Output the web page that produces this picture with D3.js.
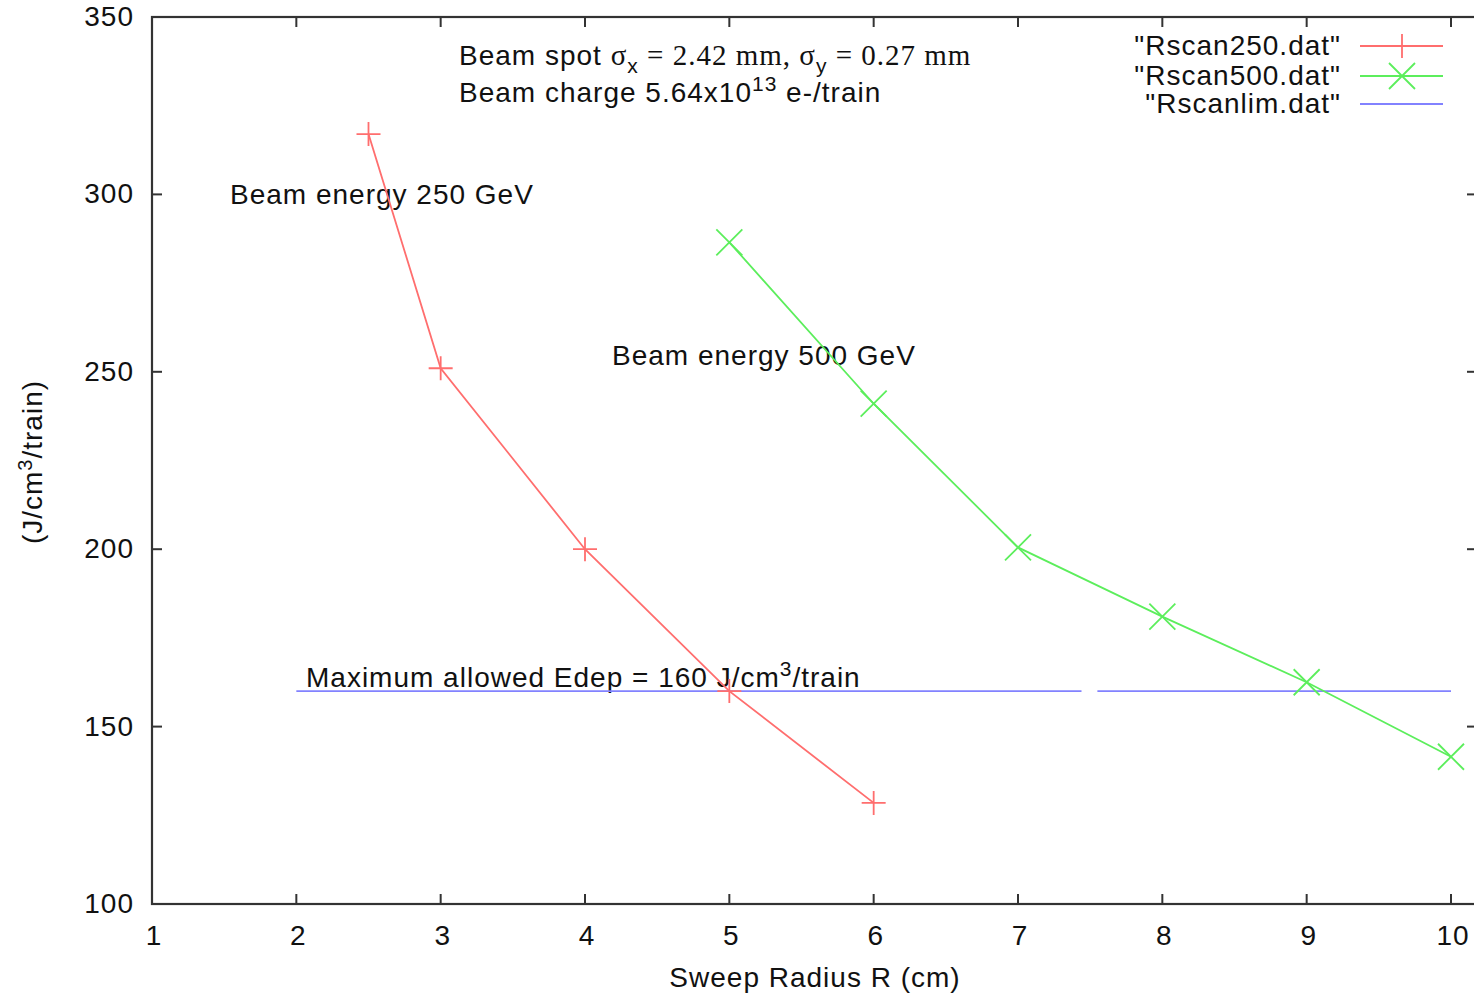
<!DOCTYPE html>
<html>
<head>
<meta charset="utf-8">
<script src="https://cdn.jsdelivr.net/npm/d3@7"></script>
<style>
  html, body { margin: 0; padding: 0; background: #fff; }
  svg { display: block; }
  text { font-family: "Liberation Sans", Arial, sans-serif; fill: #111; letter-spacing: 1px; }
  .serif { font-family: "Liberation Serif", "Times New Roman", serif; }
</style>
</head>
<body>
<script>
// Sweep radius scan: deposited energy per train vs. sweep radius
const rscan250X = [2.5, 3, 4, 5, 6];
const rscan250Y = [317, 251, 200, 160, 128.5];
const rscan500X = [5, 6, 7, 8, 9, 10];
const rscan500Y = [286.5, 241, 200.5, 181, 162.5, 141.5];
// limit line, stored as two runs separated by a blank record
const rscanlimSegments = [
  [[2, 160], [7.44, 160]],
  [[7.55, 160], [10, 160]]
];
const xTicks = [1, 2, 3, 4, 5, 6, 7, 8, 9, 10];
const yTicks = [100, 150, 200, 250, 300, 350];
const legendLabels = ['"Rscan250.dat"', '"Rscan500.dat"', '"Rscanlim.dat"'];

const W = 1474, H = 995;
const plotL = 152, plotR = 1477, plotT = 17, plotB = 904;

const x = d3.scaleLinear().domain([1, 10]).range([plotL, 1451]);
const y = d3.scaleLinear().domain([100, 350]).range([plotB, plotT]);

const svg = d3.select("body").append("svg").attr("width", W).attr("height", H);

const RED = "#ff6e6e", GREEN = "#5cee5c", BLUE = "#8282ff";
const FS = 28;

// Ticks (inward) on all four sides
const tickLen = 10;
const tickG = svg.append("g").attr("stroke", "#333").attr("stroke-width", 2);
xTicks.forEach(t => {
  tickG.append("line").attr("x1", x(t)).attr("x2", x(t)).attr("y1", plotB).attr("y2", plotB - tickLen);
  tickG.append("line").attr("x1", x(t)).attr("x2", x(t)).attr("y1", plotT).attr("y2", plotT + tickLen);
});
yTicks.forEach(t => {
  tickG.append("line").attr("x1", plotL).attr("x2", plotL + tickLen).attr("y1", y(t)).attr("y2", y(t));
  tickG.append("line").attr("x1", plotR).attr("x2", plotR - tickLen).attr("y1", y(t)).attr("y2", y(t));
});

// Frame
svg.append("rect").attr("x", plotL).attr("y", plotT).attr("width", plotR - plotL).attr("height", plotB - plotT)
  .attr("fill", "none").attr("stroke", "#333").attr("stroke-width", 2.2);

// Tick labels
svg.append("g").selectAll("text").data(xTicks).join("text")
  .attr("x", d => x(d) + 2).attr("y", 945).attr("text-anchor", "middle")
  .attr("font-size", FS).text(d => d);
svg.append("g").selectAll("text").data(yTicks).join("text")
  .attr("x", 134).attr("y", d => y(d) + 9).attr("text-anchor", "end")
  .attr("font-size", FS).text(d => d);

// Axis titles
svg.append("text").attr("x", 815).attr("y", 987).attr("text-anchor", "middle")
  .attr("font-size", FS).text("Sweep Radius R (cm)");
const yt = svg.append("text").attr("transform", "translate(42,462) rotate(-90)")
  .attr("text-anchor", "middle").attr("font-size", FS);
yt.append("tspan").text("(J/cm");
yt.append("tspan").attr("dy", -10).attr("font-size", 20).text("3");
yt.append("tspan").attr("dy", 10).text("/train)");

// Annotations
const a1 = svg.append("text").attr("x", 459).attr("y", 65).attr("font-size", FS);
a1.append("tspan").text("Beam spot ");
a1.append("tspan").attr("class", "serif").attr("font-size", 29).text("σ");
a1.append("tspan").attr("dy", 8).attr("font-size", 21).text("x");
a1.append("tspan").attr("dy", -8).attr("class", "serif").attr("font-size", 29).text(" = 2.42 mm, σ");
a1.append("tspan").attr("dy", 8).attr("font-size", 21).text("y");
a1.append("tspan").attr("dy", -8).attr("class", "serif").attr("font-size", 29).text(" = 0.27 mm");

const a2 = svg.append("text").attr("x", 459).attr("y", 102).attr("font-size", FS);
a2.append("tspan").text("Beam charge 5.64x10");
a2.append("tspan").attr("dy", -11).attr("font-size", 21).text("13");
a2.append("tspan").attr("dy", 11).text(" e-/train");

svg.append("text").attr("x", 230).attr("y", 204).attr("font-size", FS).text("Beam energy 250 GeV");
svg.append("text").attr("x", 612).attr("y", 365).attr("font-size", FS).text("Beam energy 500 GeV");

const a3 = svg.append("text").attr("x", 306).attr("y", 687).attr("font-size", FS);
a3.append("tspan").text("Maximum allowed Edep = 160 J/cm");
a3.append("tspan").attr("dy", -11).attr("font-size", 21).text("3");
a3.append("tspan").attr("dy", 11).text("/train");

// Data lines
const line = d3.line().x(d => x(d[0])).y(d => y(d[1]));
const pts250 = rscan250X.map((v, i) => [v, rscan250Y[i]]);
const pts500 = rscan500X.map((v, i) => [v, rscan500Y[i]]);

rscanlimSegments.forEach(seg => {
  svg.append("path").attr("d", line(seg)).attr("fill", "none")
    .attr("stroke", BLUE).attr("stroke-width", 1.8);
});
svg.append("path").attr("d", line(pts250)).attr("fill", "none")
  .attr("stroke", RED).attr("stroke-width", 1.8);
svg.append("path").attr("d", line(pts500)).attr("fill", "none")
  .attr("stroke", GREEN).attr("stroke-width", 1.8);

// Point markers
const plus = (g, cx, cy, r, c) => {
  g.append("path").attr("d", `M${cx - r},${cy}H${cx + r}M${cx},${cy - r}V${cy + r}`)
    .attr("stroke", c).attr("stroke-width", 1.8).attr("fill", "none");
};
const cross = (g, cx, cy, r, c) => {
  g.append("path").attr("d", `M${cx - r},${cy - r}L${cx + r},${cy + r}M${cx - r},${cy + r}L${cx + r},${cy - r}`)
    .attr("stroke", c).attr("stroke-width", 1.8).attr("fill", "none");
};
const mg = svg.append("g");
pts250.forEach(p => plus(mg, x(p[0]), y(p[1]), 12, RED));
pts500.forEach(p => cross(mg, x(p[0]), y(p[1]), 13, GREEN));

// Legend
const legendColors = [RED, GREEN, BLUE];
const legendY = [46, 76, 104];
legendLabels.forEach((lab, i) => {
  svg.append("text").attr("x", 1341).attr("y", legendY[i] + 9).attr("text-anchor", "end")
    .attr("font-size", FS).text(lab);
  svg.append("line").attr("x1", 1360).attr("x2", 1443).attr("y1", legendY[i]).attr("y2", legendY[i])
    .attr("stroke", legendColors[i]).attr("stroke-width", 1.8);
});
plus(svg, 1402, legendY[0], 12, RED);
cross(svg, 1402, legendY[1], 13, GREEN);
</script>
</body>
</html>
